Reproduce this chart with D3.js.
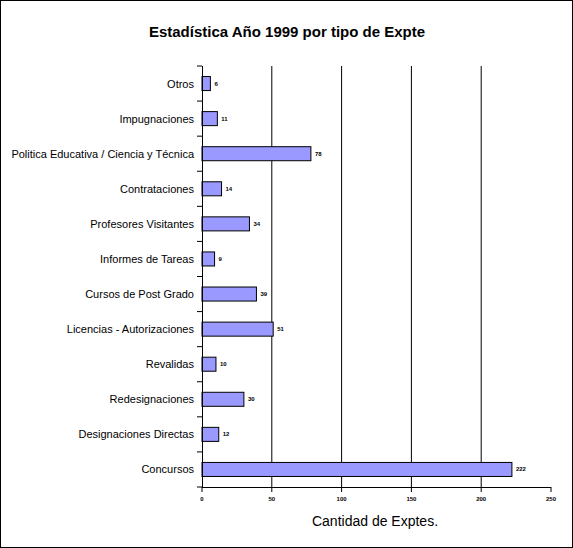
<!DOCTYPE html><html><head><meta charset="utf-8"><script src="https://cdn.jsdelivr.net/npm/d3@7"></script>
<style>body{margin:0;background:#fff}</style></head><body><script>
const categories=["Otros","Impugnaciones","Politica Educativa / Ciencia y Técnica","Contrataciones","Profesores Visitantes","Informes de Tareas","Cursos de Post Grado","Licencias - Autorizaciones","Revalidas","Redesignaciones","Designaciones Directas","Concursos"];
const values=[6,11,78,14,34,9,39,51,10,30,12,222];
const xTicks=[0,50,100,150,200,250];
const W=573,H=548,m={l:202,r:22,t:66,b:61};
const svg=d3.select("body").append("svg").attr("width",W).attr("height",H).style("font-family","Arial, 'Liberation Sans', sans-serif");
svg.append("rect").attr("x",0.5).attr("y",0.5).attr("width",W-1).attr("height",H-1).attr("fill","#fff").attr("stroke","#000");
const x=d3.scaleLinear().domain([0,250]).range([m.l,W-m.r]);
const y=d3.scaleBand().domain(categories).range([m.t,H-m.b]).paddingInner(0.6).paddingOuter(0.3);
const step=y.step(),top0=m.t,bot=H-m.b;
svg.append("g").selectAll("line").data(xTicks.slice(1,-1)).join("line").attr("x1",d=>x(d)).attr("x2",d=>x(d)).attr("y1",top0).attr("y2",bot).attr("stroke","#000");
svg.append("g").selectAll("rect").data(values).join("rect").attr("x",x(0)).attr("y",(d,i)=>y(categories[i])).attr("width",d=>x(d)-x(0)).attr("height",y.bandwidth()).attr("fill","#9999ff").attr("stroke","#000");
svg.append("g").selectAll("text").data(values).join("text").attr("x",d=>x(d)+4).attr("y",(d,i)=>y(categories[i])+y.bandwidth()/2+2).attr("font-size",6).attr("font-weight","bold").text(d=>d);
const ya=svg.append("g").attr("transform",`translate(${m.l},0)`);
ya.append("line").attr("x1",0.5).attr("x2",0.5).attr("y1",top0).attr("y2",bot).attr("stroke","#000");
const bounds=d3.range(categories.length+1).map(i=>top0+i*(bot-top0)/categories.length);
ya.selectAll("line.t").data(bounds).join("line").attr("class","t").attr("x1",-5).attr("x2",0).attr("y1",d=>d).attr("y2",d=>d).attr("stroke","#000");
ya.selectAll("text").data(categories).join("text").attr("x",-8).attr("y",d=>y(d)+y.bandwidth()/2+4).attr("text-anchor","end").attr("font-size",11).text(d=>d);
const xa=svg.append("g").attr("transform",`translate(0,${bot})`);
xa.append("line").attr("x1",m.l).attr("x2",W-m.r).attr("y1",0.5).attr("y2",0.5).attr("stroke","#000");
xa.selectAll("line.t").data(xTicks).join("line").attr("class","t").attr("x1",d=>x(d)).attr("x2",d=>x(d)).attr("y1",0).attr("y2",5).attr("stroke","#000");
xa.selectAll("text").data(xTicks).join("text").attr("x",d=>x(d)).attr("y",14).attr("text-anchor","middle").attr("font-size",6).attr("font-weight","bold").text(d=>d);
svg.append("text").attr("x",375).attr("y",526).attr("text-anchor","middle").attr("font-size",14).text("Cantidad de Exptes.");
svg.append("text").attr("x",287).attr("y",37).attr("text-anchor","middle").attr("font-size",15).attr("font-weight","bold").text("Estadística Año 1999 por tipo de Expte");
</script></body></html>
